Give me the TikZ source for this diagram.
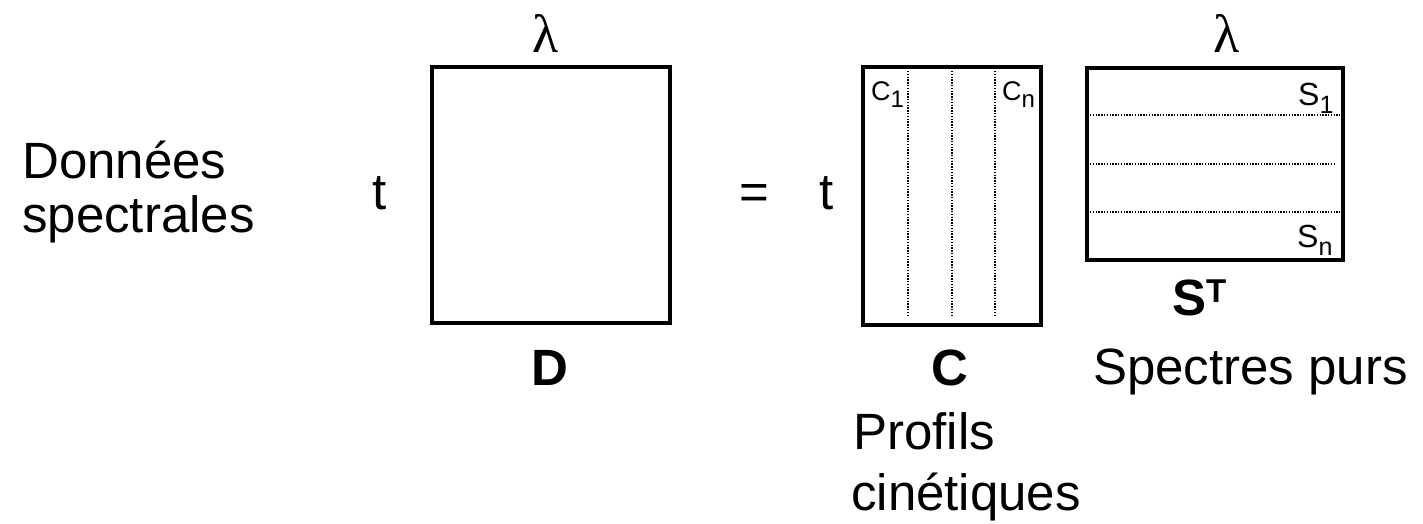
\documentclass[tikz,border=0pt]{standalone}
\usepackage{fontspec}
\setmainfont{Liberation Sans}
\newfontfamily\greekfont{Liberation Serif}
\begin{document}
\begin{tikzpicture}[x=1pt,y=-1pt,
  mat/.style={draw=black,line width=3.5pt},
  sep/.style={draw=black,line width=1.3pt,dash pattern=on 1.4pt off 1.4pt},
  txt/.style={inner sep=0pt,font=\fontsize{51}{60}\selectfont},
  bold/.style={inner sep=0pt,font=\fontsize{51}{60}\selectfont\bfseries},
  lam/.style={inner sep=0pt,font=\fontsize{54}{60}\selectfont\greekfont},
  sub/.style={inner sep=0pt,font=\fontsize{27}{30}\selectfont},
  subS/.style={inner sep=0pt,font=\fontsize{32}{36}\selectfont}]
\useasboundingbox (0,0) rectangle (1423,523);

% matrices
\draw[mat] (432,67) rectangle (670,323);
\draw[mat] (863,67) rectangle (1041,325);
\draw[mat] (1087,68) rectangle (1343,260);

% column separators of C
\coordinate (c1t) at (908,71);  \coordinate (c1b) at (908,317);
\coordinate (c2t) at (952,71);  \coordinate (c2b) at (952,317);
\coordinate (c3t) at (995,71);  \coordinate (c3b) at (995,317);
\draw[sep] (c1t) -- (c1b);
\draw[sep] (c2t) -- (c2b);
\draw[sep] (c3t) -- (c3b);

% row separators of S^T
\coordinate (s1l) at (1090,115); \coordinate (s1r) at (1340,115);
\coordinate (s2l) at (1090,164); \coordinate (s2r) at (1336,164);
\coordinate (s3l) at (1090,212); \coordinate (s3r) at (1340,212);
\draw[sep] (s1l) -- (s1r);
\draw[sep] (s2l) -- (s2r);
\draw[sep] (s3l) -- (s3r);

% left caption
\node[txt,anchor=base west] (don) at (22,178) {Données};
\node[txt,anchor=base west] (spe) at (22,232) {spectrales};

% axis labels
\node[lam,anchor=base] (lamD) at (546,52) {λ};
\node[lam,anchor=base] (lamS) at (1227,52) {λ};
\node[txt,anchor=base west] (tD) at (372,209) {t};
\node[txt,anchor=base west] (tC) at (819,209) {t};
\node[txt,anchor=base] (eq) at (754,209) {=};

% column and row labels
\node[sub,anchor=base west] (c1) at (871,100) {C\raisebox{-7pt}{\fontsize{24}{26}\selectfont 1}};
\node[sub,anchor=base west] (cn) at (1002,100) {C\raisebox{-7pt}{\fontsize{24}{26}\selectfont n}};
\node[subS,anchor=base west] (s1) at (1298,105) {S\raisebox{-8pt}{\fontsize{25}{28}\selectfont 1}};
\node[subS,anchor=base west] (sn) at (1297,247) {S\raisebox{-8pt}{\fontsize{25}{28}\selectfont n}};

% matrix names
\node[bold,anchor=base] (nD) at (550,385) {D};
\node[bold,anchor=base] (nC) at (950,385) {C};
\node[bold,anchor=base west] (nS) at (1172,315) {S\raisebox{13pt}{\fontsize{33}{36}\selectfont\bfseries T}};

% descriptions
\node[txt,anchor=base west] (sp) at (1093,384) {Spectres purs};
\node[txt,anchor=base west] (pr) at (853,449) {Profils};
\node[txt,anchor=base west] (ci) at (851,510) {cinétiques};
\end{tikzpicture}
\end{document}
